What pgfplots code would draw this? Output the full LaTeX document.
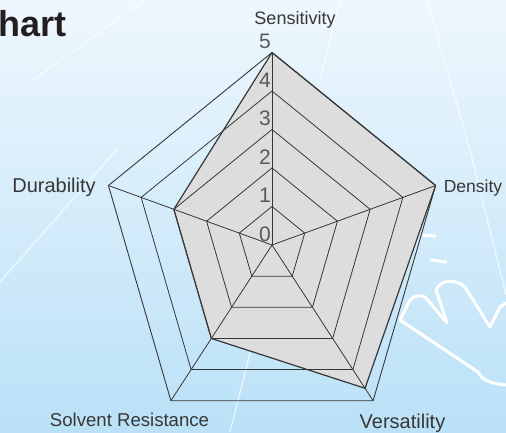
\documentclass[border=0pt]{standalone}
\usepackage{pgfplots}
\pgfplotsset{compat=1.18}
\usepackage{fontspec}
\setmainfont{Liberation Sans}
\definecolor{bgtop}{RGB}{238,247,253}
\definecolor{bgmid}{RGB}{212,236,250}
\definecolor{bgbot}{RGB}{186,225,247}
\definecolor{gridc}{RGB}{55,55,55}
\definecolor{fillc}{RGB}{221,221,221}
\definecolor{numc}{RGB}{90,90,90}
\definecolor{labc}{RGB}{55,55,55}
\definecolor{titc}{RGB}{35,31,32}
\begin{document}
\begin{tikzpicture}[x=1bp,y=1bp]
\useasboundingbox (0,0) rectangle (506,432);
\shade[top color=bgtop, middle color=bgmid, bottom color=bgbot] (0,0) rectangle (506,432);
% background glare streaks
\begin{scope}[white, opacity=0.6, line width=1.5bp]
\draw (0,150) -- (118,284);
\draw (30,350) -- (145,432);
\draw (340,432) -- (320,352);
\draw (427,432) -- (470,282) -- (506,137);
\draw (252,87) -- (230,0);
\end{scope}
% hand icon
\begin{scope}[white, line width=3bp, line cap=round, line join=round]
\draw (400,112) -- (410,132) .. controls (415,137) and (420,137) .. (425,135) -- (447,109)
      -- (436,142) .. controls (440,152) and (455,154) .. (465,145) -- (490,105)
      -- (500,125) -- (506,129);
\draw (400,112) -- (478,60) .. controls (483,52) and (488,49) .. (506,47);
\draw (423,197) -- (435,196);
\draw (431,172) -- (446,170);
\end{scope}
\node[anchor=base west, inner sep=0, text=titc, font=\fontsize{36bp}{40bp}\selectfont\bfseries] at (-2,395) {hart};
\begin{axis}[at={(272bp,187bp)}, anchor=center, x=34.4bp, y=38.5bp,
  xmin=-5.5, xmax=5.5, ymin=-5.5, ymax=5.5,
  axis lines=none, ticks=none, clip=false]
% data fill
\addplot[fill=fillc, draw=none, data cs=polar] coordinates {(90,5) (18,5) (-54,4.6) (-126,3) (162,3) (90,5)};
% pentagon grid rings
\addplot[gridc, line width=0.8bp, data cs=polar] coordinates {(90,1) (18,1) (-54,1) (-126,1) (162,1) (90,1)};
\addplot[gridc, line width=0.8bp, data cs=polar] coordinates {(90,2) (18,2) (-54,2) (-126,2) (162,2) (90,2)};
\addplot[gridc, line width=0.8bp, data cs=polar] coordinates {(90,3) (18,3) (-54,3) (-126,3) (162,3) (90,3)};
\addplot[gridc, line width=0.8bp, data cs=polar] coordinates {(90,4) (18,4) (-54,4) (-126,4) (162,4) (90,4)};
\addplot[gridc, line width=0.9bp, data cs=polar] coordinates {(90,5) (18,5) (-54,5) (-126,5) (162,5) (90,5)};
% spokes
\addplot[gridc, line width=0.8bp, data cs=polar] coordinates {(90,0) (90,5)};
\addplot[gridc, line width=0.8bp, data cs=polar] coordinates {(18,0) (18,5)};
\addplot[gridc, line width=0.8bp, data cs=polar] coordinates {(-54,0) (-54,5)};
\addplot[gridc, line width=0.8bp, data cs=polar] coordinates {(-126,0) (-126,5)};
\addplot[gridc, line width=0.8bp, data cs=polar] coordinates {(162,0) (162,5)};
% data outline
\addplot[gridc, line width=1.2bp, line join=round, data cs=polar] coordinates {(90,5) (18,5) (-54,4.6) (-126,3) (162,3) (90,5)};
% scale numbers
\foreach \r in {0,...,5}{
  \edef\tmp{\noexpand\node[text=numc, inner sep=0, font=\noexpand\fontsize{21bp}{22bp}\noexpand\selectfont, xshift=-7bp, yshift=11bp] at (axis cs:0,\r) {\r};}
  \tmp
}
\end{axis}
% category labels
\node[text=labc, font=\fontsize{18bp}{20bp}\selectfont] at (295,412) {Sensitivity};
\node[text=labc, font=\fontsize{17.5bp}{20bp}\selectfont] at (473,244) {Density};
\node[text=labc, font=\fontsize{20bp}{22bp}\selectfont] at (402.5,9) {Versatility};
\node[text=labc, font=\fontsize{18.6bp}{20bp}\selectfont] at (129.5,12) {Solvent Resistance};
\node[text=labc, font=\fontsize{20bp}{22bp}\selectfont] at (54,245) {Durability};
\end{tikzpicture}
\end{document}
